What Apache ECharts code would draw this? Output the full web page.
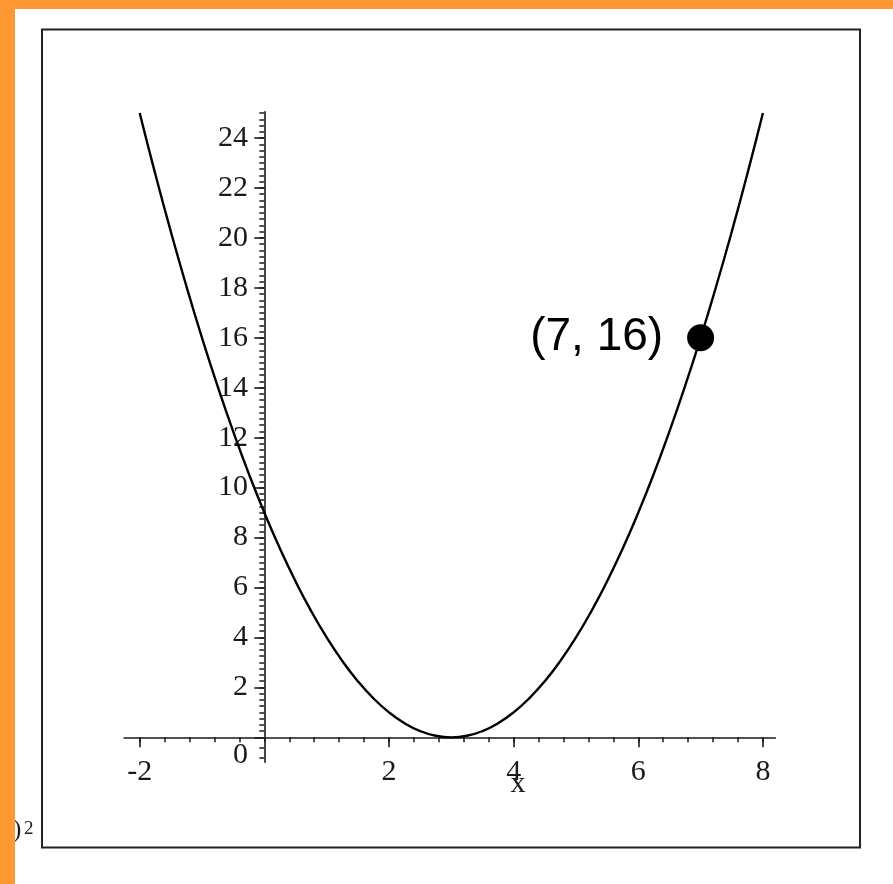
<!DOCTYPE html>
<html>
<head>
<meta charset="utf-8">
<script src="https://cdn.jsdelivr.net/npm/echarts@6/dist/echarts.min.js"></script>
<style>
  html, body { margin: 0; padding: 0; background: #ffffff; }
  #chart { width: 893px; height: 884px; }
</style>
</head>
<body>
<div id="chart"></div>
<script>
// Parabola y = (x - 3)^2, sampled every quarter unit
const curveX = [-2, -1.75, -1.5, -1.25, -1, -0.75, -0.5, -0.25, 0, 0.25, 0.5, 0.75, 1, 1.25, 1.5, 1.75,
                2, 2.25, 2.5, 2.75, 3, 3.25, 3.5, 3.75, 4, 4.25, 4.5, 4.75, 5, 5.25, 5.5, 5.75,
                6, 6.25, 6.5, 6.75, 7, 7.25, 7.5, 7.75, 8];
const curveY = [25, 22.5625, 20.25, 18.0625, 16, 14.0625, 12.25, 10.5625, 9, 7.5625, 6.25, 5.0625,
                4, 3.0625, 2.25, 1.5625, 1, 0.5625, 0.25, 0.0625, 0, 0.0625, 0.25, 0.5625,
                1, 1.5625, 2.25, 3.0625, 4, 5.0625, 6.25, 7.5625, 9, 10.5625, 12.25, 14.0625,
                16, 18.0625, 20.25, 22.5625, 25];

// Highlighted point and its caption
const markedPoint = [7, 16];
const markedLabel = '(7, 16)';

// Axis ticks
const xLabelTicks = [-2, 2, 4, 6, 8];
const xMinorTicks = [-2, -1.6, -1.2, -0.8, -0.4, 0, 0.4, 0.8, 1.2, 1.6, 2, 2.4, 2.8, 3.2, 3.6,
                     4, 4.4, 4.8, 5.2, 5.6, 6, 6.4, 6.8, 7.2, 7.6, 8];
const yLabelTicks = [0, 2, 4, 6, 8, 10, 12, 14, 16, 18, 20, 22, 24];
const yMinorBelow = [-0.4, -0.8];
const yMinorStep = 0.25;
const yMinorTop = 25;

const yMinorTicks = yMinorBelow.slice();
for (let v = yMinorStep; v <= yMinorTop + 1e-9; v += yMinorStep) {
  yMinorTicks.push(Math.round(v * 100) / 100);
}

const serif = '"Liberation Serif", "Times New Roman", serif';
const sans = '"Liberation Sans", Arial, sans-serif';
const ink = '#1a1a1a';

const chart = echarts.init(document.getElementById('chart'), null, { renderer: 'canvas' });

const commonAxis = {
  type: 'value',
  splitLine: { show: false },
  minorTick: { show: false },
  minorSplitLine: { show: false }
};

chart.setOption({
  backgroundColor: '#ffffff',
  animation: false,
  grid: {
    left: 124.1, right: 117.6, top: 111.8, bottom: 121.7,
    containLabel: false, outerBoundsMode: 'none'
  },
  xAxis: [
    Object.assign({}, commonAxis, {
      min: -2.25, max: 8.2, position: 'bottom',
      axisLine: { show: true, onZero: true, onZeroAxisIndex: 0, lineStyle: { color: ink, width: 1.6 } },
      axisTick: { show: true, customValues: xLabelTicks, length: 10, lineStyle: { color: ink, width: 1.6 } },
      axisLabel: {
        show: true, customValues: xLabelTicks, margin: -5,
        color: ink, fontFamily: serif, fontSize: 30,
        formatter: v => String(v)
      }
    }),
    Object.assign({}, commonAxis, {
      min: -2.25, max: 8.2, position: 'bottom',
      axisLine: { show: false, onZero: true, onZeroAxisIndex: 0 },
      axisTick: { show: true, customValues: xMinorTicks, length: 5, lineStyle: { color: ink, width: 1.5 } },
      axisLabel: { show: false }
    })
  ],
  yAxis: [
    Object.assign({}, commonAxis, {
      min: -1, max: 25.05, position: 'left',
      axisLine: { show: true, onZero: true, onZeroAxisIndex: 0, lineStyle: { color: ink, width: 1.6 } },
      axisTick: { show: true, customValues: yLabelTicks, length: 10, lineStyle: { color: ink, width: 1.6 } },
      axisLabel: {
        show: true, customValues: yLabelTicks, margin: -124,
        color: ink, fontFamily: serif, fontSize: 30,
        formatter: v => (v === 0 ? '{origin|0}' : String(v)),
        rich: {
          origin: { fontFamily: serif, fontSize: 30, color: ink, padding: [36, 0, 0, 0] }
        }
      }
    }),
    Object.assign({}, commonAxis, {
      min: -1, max: 25.05, position: 'left',
      axisLine: { show: false, onZero: true, onZeroAxisIndex: 0 },
      axisTick: { show: true, customValues: yMinorTicks, length: 5, lineStyle: { color: ink, width: 1.5 } },
      axisLabel: { show: false }
    })
  ],
  series: [
    {
      type: 'line',
      xAxisIndex: 0, yAxisIndex: 0,
      data: curveX.map((x, i) => [x, curveY[i]]),
      smooth: 0.5,
      showSymbol: false,
      lineStyle: { color: '#000000', width: 2.4, opacity: 1 },
      z: 3
    },
    {
      type: 'scatter',
      xAxisIndex: 0, yAxisIndex: 0,
      data: [markedPoint],
      symbol: 'circle',
      symbolSize: 27,
      itemStyle: { color: '#000000', opacity: 1 },
      label: {
        show: true, position: 'left', distance: 24,
        formatter: markedLabel, opacity: 1,
        color: '#000000', fontFamily: sans, fontSize: 46
      },
      emphasis: { disabled: true },
      z: 4
    }
  ],
  graphic: [
    // plot frame
    {
      type: 'rect', z: 1, silent: true,
      shape: { x: 42, y: 29.5, width: 818, height: 818 },
      style: { fill: null, stroke: '#222222', lineWidth: 2 }
    },
    // axis name
    {
      type: 'text', z: 5, silent: true,
      x: 518, y: 784,
      style: { text: 'x', font: '30px ' + serif, fill: ink, align: 'center', verticalAlign: 'middle' }
    },
    // trailing part of the formula caption
    {
      type: 'text', z: 5, silent: true,
      x: 13, y: 818,
      style: { text: ')', font: '25px ' + serif, fill: ink, align: 'left', verticalAlign: 'top' }
    },
    {
      type: 'text', z: 5, silent: true,
      x: 24, y: 820,
      style: { text: '2', font: '19px ' + serif, fill: ink, align: 'left', verticalAlign: 'top' }
    },
    // orange slide border
    {
      type: 'rect', z: 10, silent: true,
      shape: { x: 0, y: 0, width: 893, height: 9 },
      style: { fill: '#FF9933' }
    },
    {
      type: 'rect', z: 10, silent: true,
      shape: { x: 0, y: 0, width: 15, height: 884 },
      style: { fill: '#FF9933' }
    }
  ]
});
</script>
</body>
</html>
